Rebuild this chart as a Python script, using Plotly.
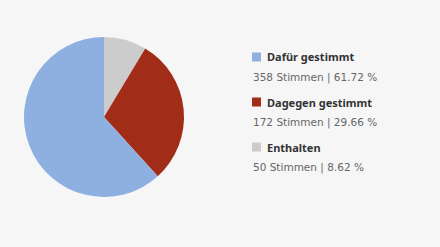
import plotly.graph_objects as go

labels = ["Dafür gestimmt", "Dagegen gestimmt", "Enthalten"]
votes = [358, 172, 50]
percents = ["61.72", "29.66", "8.62"]
colors = ["#8eb0e0", "#a12d18", "#cccccc"]

W, H = 440, 247
fig = go.Figure()
fig.add_trace(go.Pie(
    labels=labels[::-1], values=votes[::-1], sort=False, direction="clockwise",
    rotation=0, marker=dict(colors=colors[::-1], line=dict(width=0)),
    textinfo="none", hoverinfo="label+value+percent", showlegend=False,
    domain=dict(x=[24 / W, 184 / W], y=[(H - 197) / H, (H - 37) / H]),
))

title_y = [57, 102, 147]
sub_y = [77, 122, 167]
annotations = []
shapes = []
for i, lab in enumerate(labels):
    ty = title_y[i]
    shapes.append(dict(type="rect", xref="paper", yref="paper",
                       x0=252 / W, x1=261 / W, y0=(H - ty - 4.5) / H, y1=(H - ty + 4.5) / H,
                       fillcolor=colors[i], line=dict(width=0)))
    annotations.append(dict(xref="paper", yref="paper", x=265 / W, y=(H - ty) / H,
                            xanchor="left", yanchor="middle", showarrow=False,
                            text=f"<b>{lab}</b>",
                            font=dict(family="Noto Sans", size=11, color="#333333")))
    annotations.append(dict(xref="paper", yref="paper", x=251 / W, y=(H - sub_y[i]) / H,
                            xanchor="left", yanchor="middle", showarrow=False,
                            text=f"{votes[i]} Stimmen | {percents[i]} %",
                            font=dict(family="DejaVu Sans", size=10.5, color="#666666")))

fig.update_layout(
    width=W, height=H, margin=dict(l=0, r=0, t=0, b=0),
    paper_bgcolor="#f6f6f6", plot_bgcolor="#f6f6f6",
    annotations=annotations, shapes=shapes,
)
fig.write_html("out.html")
